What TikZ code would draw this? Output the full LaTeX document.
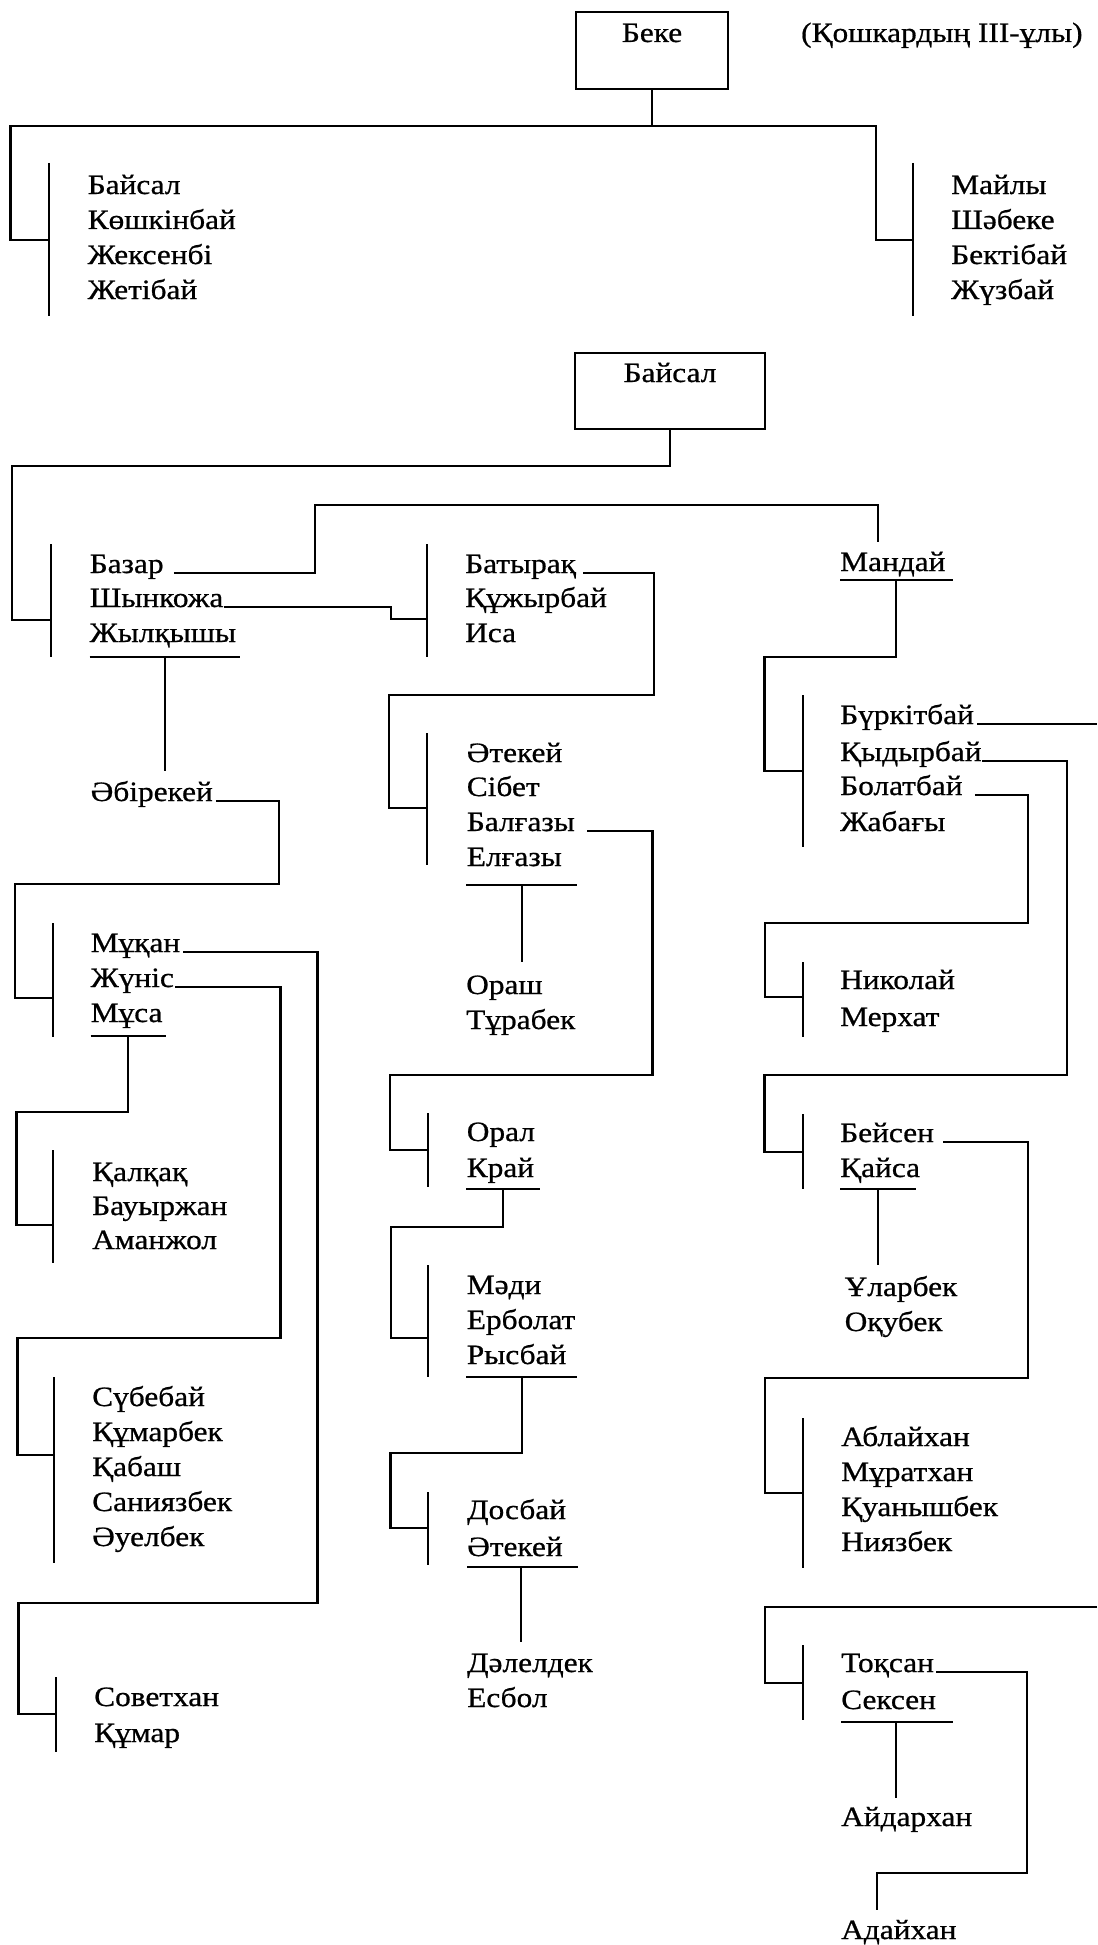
\documentclass[tikz,border=0pt]{standalone}
\usepackage{fontspec}
\setmainfont{Liberation Serif}[FakeStretch=1.12,FakeBold=0.7]
\begin{document}
\begin{tikzpicture}[x=1pt,y=-1pt,
  nm/.style={anchor=base west, inner sep=0pt, font=\fontsize{28}{34}\selectfont},
  ln/.style={line width=2.8pt},
  boxn/.style={draw, line width=2.8pt, inner sep=0pt}]
\useasboundingbox[fill=white] (0,0) rectangle (1097,1945);

% ---------- Section 1 ----------
\node[boxn, minimum width=152pt, minimum height=77pt] (beke) at (652,50.5) {};
\node[nm, anchor=base] (bekeT) at (652,42) {Беке};
\node[nm] (note) at (801,42) {(Қошкардың III-ұлы)};
\draw[ln] (beke.south) -- (652,126) coordinate (j1);
\draw[ln] (49,240) -- (10.5,240) -- (10.5,126) -- (876,126) -- (876,240) -- (913,240);
\draw[ln] (49,163) coordinate (b1t) -- (49,316) coordinate (b1b);
\draw[ln] (913,163) coordinate (b2t) -- (913,316) coordinate (b2b);
\node[nm] (n11) at (87.5,194) {Байсал};
\node[nm] (n12) at (87.5,229) {Көшкінбай};
\node[nm] (n13) at (87.5,264) {Жексенбі};
\node[nm] (n14) at (87.5,299) {Жетібай};
\node[nm] (n21) at (951,194) {Майлы};
\node[nm] (n22) at (951,229) {Шәбеке};
\node[nm] (n23) at (951,264) {Бектібай};
\node[nm] (n24) at (951,299) {Жүзбай};

% ---------- Section 2 ----------
\node[boxn, minimum width=190pt, minimum height=76pt] (baisal) at (670,391) {};
\node[nm, anchor=base] (baisalT) at (670,382) {Байсал};
\draw[ln] (baisal.south) |- (12,466) -- (12,620) -- (51,620);

% left column
\draw[ln] (51,544) -- (51,657);
\node[nm] (bazar) at (89.5,573) {Базар};
\node[nm] (shynk) at (89.5,607) {Шынкожа};
\node[nm] (zhylk) at (89.5,642) {Жылқышы};
\draw[ln] (89.5,657) -- (240,657);
\node[nm] (abir) at (90.5,801) {Әбірекей};
\draw[ln] (165,657) -- (165,771);
\draw[ln] ([xshift=3pt]abir.base east) -| (279,884) -- (15,884) -- (15,998) -- (53,998);

\draw[ln] (53,923) -- (53,1037);
\node[nm] (mukan) at (90.5,952) {Мұқан};
\node[nm] (zhunis) at (90.5,987) {Жүніс};
\node[nm] (musa) at (90.5,1022) {Мұса};
\draw[ln] (90.5,1036) -- (165.6,1036);
\draw[ln] (128,1036) -- (128,1112) -- (16.5,1112) -- (16.5,1225) -- (53,1225);

\draw[ln] (53,1150) -- (53,1263);
\node[nm] (kalk) at (92,1181) {Қалқақ};
\node[nm] (bauyr) at (92,1215) {Бауыржан};
\node[nm] (amanzh) at (92,1249) {Аманжол};

\draw[ln] ([xshift=1pt]zhunis.base east) -| (280.6,1338) -- (17.5,1338) -- (17.5,1455) -- (54,1455);
\draw[ln] (54,1377) -- (54,1563);
\node[nm] (subeb) at (92,1406) {Сүбебай};
\node[nm] (kumarb) at (92,1441) {Құмарбек};
\node[nm] (kabash) at (92,1476) {Қабаш};
\node[nm] (saniyaz) at (92,1511) {Саниязбек};
\node[nm] (auelb) at (92,1546) {Әуелбек};

\draw[ln] ([xshift=3pt]mukan.base east) -| (317.5,1603) -- (18.4,1603) -- (18.4,1714) -- (56,1714);
\draw[ln] (56,1677) -- (56,1752);
\node[nm] (sovet) at (94,1706) {Советхан};
\node[nm] (kumar) at (94,1742) {Құмар};

% middle column
\node[nm] (mandai) at (840,571) {Мандай};
\draw[ln] ([xshift=10pt]bazar.base east) -| (315,505) -| (878,542);
\draw[ln] (shynk.base east) -| (391,619) -- (427,619);
\draw[ln] (427,544) -- (427,657);
\node[nm] (batyr) at (465,573) {Батырақ};
\node[nm] (kuzhyr) at (465,607) {Құжырбай};
\node[nm] (isa) at (465,642) {Иса};
\draw[ln] ([xshift=7pt]batyr.base east) -| (654,695) -- (389,695) -- (389,808) -- (427,808);

\draw[ln] (427,733) -- (427,865);
\node[nm] (atek1) at (466.6,762) {Әтекей};
\node[nm] (sibet) at (466.6,796) {Сібет};
\node[nm] (balg) at (466.6,831) {Балғазы};
\node[nm] (elg) at (466.6,866) {Елғазы};
\draw[ln] (466,885) -- (577,885);
\node[nm] (orash) at (466,994) {Ораш};
\node[nm] (turab) at (466,1029) {Тұрабек};
\draw[ln] (522,885) -- (522,962);
\draw[ln] ([xshift=12pt]balg.base east) -| (652.5,1075) -- (390,1075) -- (390,1150) -- (428,1150);

\draw[ln] (428,1113) -- (428,1187);
\node[nm] (oral) at (466.6,1141) {Орал};
\node[nm] (krai) at (466.6,1177) {Край};
\draw[ln] (466,1189) -- (540,1189);
\draw[ln] (503,1189) -- (503,1227) -- (391,1227) -- (391,1338) -- (428,1338);

\draw[ln] (428,1265) -- (428,1377);
\node[nm] (madi) at (466.6,1294) {Мәди};
\node[nm] (erbol) at (466.6,1329) {Ерболат};
\node[nm] (rysb) at (466.6,1364) {Рысбай};
\draw[ln] (466,1377) -- (577,1377);
\draw[ln] (522,1377) -- (522,1453) -- (390.5,1453) -- (390.5,1528) -- (428,1528);

\draw[ln] (428,1492) -- (428,1565);
\node[nm] (dosb) at (467,1519) {Досбай};
\node[nm] (atek2) at (467,1556) {Әтекей};
\draw[ln] (467,1567) -- (578,1567);
\draw[ln] (521,1567) -- (521,1642);
\node[nm] (dalel) at (467,1672) {Дәлелдек};
\node[nm] (esbol) at (467,1707) {Есбол};

% right column
\draw[ln] (840,580) -- (953,580);
\draw[ln] (896,580) -- (896,657) -- (764.5,657) -- (764.5,771) -- (803,771);
\draw[ln] (803,695) -- (803,847);
\node[nm] (burk) at (840,724) {Бүркітбай};
\node[nm] (kydyr) at (840,761) {Қыдырбай};
\node[nm] (bolat) at (840,795) {Болатбай};
\node[nm] (zhabag) at (840,831) {Жабағы};
\coordinate (offR1) at (1097,724);
\draw[ln] ([xshift=3pt]burk.base east) -- (offR1);
\draw[ln] (kydyr.base east) -| (1067,1075) -- (764.5,1075) -- (764.5,1152) -- (803,1152);
\draw[ln] ([xshift=12pt]bolat.base east) -| (1028,923) -- (765,923) -- (765,997) -- (803,997);

\draw[ln] (803,962) -- (803,1037);
\node[nm] (nikol) at (840,989) {Николай};
\node[nm] (merkh) at (840,1026) {Мерхат};

\draw[ln] (803,1114) -- (803,1189);
\node[nm] (beisen) at (840,1142) {Бейсен};
\node[nm] (kaisa) at (840,1177) {Қайса};
\draw[ln] (840,1189) -- (916,1189);
\draw[ln] (878,1189) -- (878,1265);
\node[nm] (ularb) at (844.5,1296) {Ұларбек};
\node[nm] (okub) at (844.5,1331) {Оқубек};
\draw[ln] ([xshift=9pt]beisen.base east) -| (1028,1378) -- (765,1378) -- (765,1493) -- (803,1493);

\draw[ln] (803,1418) -- (803,1568);
\node[nm] (ablai) at (841,1446) {Аблайхан};
\node[nm] (murat) at (841,1481) {Мұратхан};
\node[nm] (kuanysh) at (841,1516) {Қуанышбек};
\node[nm] (niyaz) at (841,1551) {Ниязбек};

\coordinate (offR2) at (1097,1607);
\draw[ln] (offR2) -- (765,1607) -- (765,1683) -- (803,1683);
\draw[ln] (803,1645) -- (803,1720);
\node[nm] (toksan) at (841,1672) {Тоқсан};
\node[nm] (seksen) at (841,1709) {Сексен};
\draw[ln] (841,1722) -- (953,1722);
\draw[ln] (896,1722) -- (896,1798);
\node[nm] (aidar) at (841,1826) {Айдархан};
\draw[ln] ([xshift=2pt]toksan.base east) -| (1027,1873) -- (877,1873) -- (877,1910);
\node[nm] (adai) at (841,1939) {Адайхан};
\end{tikzpicture}
\end{document}
